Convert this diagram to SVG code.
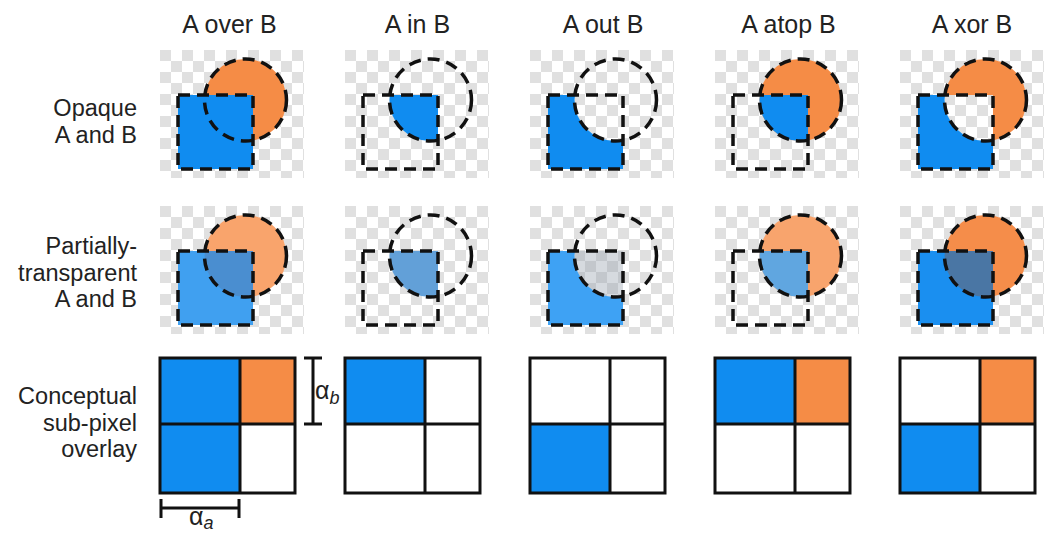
<svg xmlns="http://www.w3.org/2000/svg" xmlns:xlink="http://www.w3.org/1999/xlink" width="1046" height="534" viewBox="0 0 1046 534">
<style>
text{font-family:"Liberation Sans",Arial,sans-serif;fill:#222}
.title{font-size:25px;text-anchor:middle}
.row{font-size:23.5px;text-anchor:end}
.dash{fill:none;stroke:#111;stroke-width:3.5;stroke-dasharray:12 7}
.grid{fill:none;stroke:#111;stroke-width:3}
.dim{stroke:#111;stroke-width:3;fill:none}
.sym{font-size:25px}
.sub{font-size:18px;font-style:italic}
</style>
<defs>
<pattern id="checker" patternUnits="userSpaceOnUse" x="160" y="50" width="22" height="22">
<rect width="22" height="22" fill="#fff"/>
<rect width="11" height="11" fill="#e0e0e0"/>
<rect x="11" y="11" width="11" height="11" fill="#e0e0e0"/>
</pattern>
<clipPath id="clipCircle" clipPathUnits="userSpaceOnUse"><circle cx="245.5" cy="100" r="41"/></clipPath>
<mask id="noCircle" maskUnits="userSpaceOnUse" maskContentUnits="userSpaceOnUse" x="150" y="40" width="170" height="150">
<rect x="150" y="40" width="170" height="150" fill="#fff"/>
<circle cx="245.5" cy="100" r="41" fill="#000"/>
</mask>
<mask id="noSquare" maskUnits="userSpaceOnUse" maskContentUnits="userSpaceOnUse" x="150" y="40" width="170" height="150">
<rect x="150" y="40" width="170" height="150" fill="#fff"/>
<rect x="178" y="95" width="75" height="74" fill="#000"/>
</mask>
<rect id="bg" x="160" y="50" width="144" height="128" fill="url(#checker)"/>
<rect id="sq" x="178" y="95" width="75" height="74"/>
<circle id="ci" cx="245.5" cy="100" r="41"/>
<g id="outline">
<rect class="dash" x="178" y="95" width="75" height="74"/>
<circle class="dash" cx="245.5" cy="100" r="41"/>
</g>
</defs>
<rect width="1046" height="534" fill="#fff"/>

<g id="titles">
<text class="title" x="229.5" y="33">A over B</text>
<text class="title" x="417.5" y="33">A in B</text>
<text class="title" x="603" y="33">A out B</text>
<text class="title" x="788.5" y="33">A atop B</text>
<text class="title" x="972" y="33">A xor B</text>
</g>

<g id="row-labels">
<text class="row" x="137" y="116">Opaque</text>
<text class="row" x="137" y="143">A and B</text>
<text class="row" x="137" y="254">Partially-</text>
<text class="row" x="137" y="280.5">transparent</text>
<text class="row" x="137" y="307">A and B</text>
<text class="row" x="137" y="404">Conceptual</text>
<text class="row" x="137" y="430.5">sub-pixel</text>
<text class="row" x="137" y="457">overlay</text>
</g>

<!-- Row 1: opaque -->
<g id="opaque-over">
<use href="#bg"/>
<use href="#ci" fill="#f58c46"/>
<use href="#sq" fill="#108cf0"/>
<use href="#outline"/>
</g>
<g id="opaque-in" transform="translate(185,0)">
<use href="#bg"/>
<use href="#sq" fill="#108cf0" clip-path="url(#clipCircle)"/>
<use href="#outline"/>
</g>
<g id="opaque-out" transform="translate(370,0)">
<use href="#bg"/>
<use href="#sq" fill="#108cf0" mask="url(#noCircle)"/>
<use href="#outline"/>
</g>
<g id="opaque-atop" transform="translate(555,0)">
<use href="#bg"/>
<use href="#ci" fill="#f58c46"/>
<use href="#sq" fill="#108cf0" clip-path="url(#clipCircle)"/>
<use href="#outline"/>
</g>
<g id="opaque-xor" transform="translate(740,0)">
<use href="#bg"/>
<use href="#ci" fill="#f58c46" mask="url(#noSquare)"/>
<use href="#sq" fill="#108cf0" mask="url(#noCircle)"/>
<use href="#outline"/>
</g>

<!-- Row 2: partially transparent -->
<g id="partial-over" transform="translate(0,156)">
<use href="#bg"/>
<use href="#ci" fill="#f9a46c"/>
<use href="#sq" fill="#40a0f0"/>
<use href="#sq" fill="#4a8ed0" clip-path="url(#clipCircle)"/>
<use href="#outline"/>
</g>
<g id="partial-in" transform="translate(185,156)">
<use href="#bg"/>
<use href="#sq" fill="#62a0d8" clip-path="url(#clipCircle)"/>
<use href="#outline"/>
</g>
<g id="partial-out" transform="translate(370,156)">
<use href="#bg"/>
<use href="#sq" fill="#3ea2f4" mask="url(#noCircle)"/>
<use href="#sq" fill="#98a2ae" fill-opacity="0.4" clip-path="url(#clipCircle)"/>
<use href="#outline"/>
</g>
<g id="partial-atop" transform="translate(555,156)">
<use href="#bg"/>
<use href="#ci" fill="#f8a46d"/>
<use href="#sq" fill="#60a6e0" clip-path="url(#clipCircle)"/>
<use href="#outline"/>
</g>
<g id="partial-xor" transform="translate(740,156)">
<use href="#bg"/>
<use href="#ci" fill="#f58d4a"/>
<use href="#sq" fill="#1a8ff0"/>
<use href="#sq" fill="#4a76a4" clip-path="url(#clipCircle)"/>
<use href="#outline"/>
</g>

<!-- Row 3: conceptual sub-pixel overlay -->
<g id="grid-over">
<rect x="160" y="358" width="80" height="66" fill="#108cf0"/>
<rect x="160" y="424" width="80" height="69" fill="#108cf0"/>
<rect x="240" y="358" width="55" height="66" fill="#f58c46"/>
<rect class="grid" x="160" y="358" width="135" height="135"/>
<path class="grid" d="M240 358V493M160 424H295"/>
</g>
<g id="grid-in" transform="translate(185,0)">
<rect x="160" y="358" width="80" height="66" fill="#108cf0"/>
<rect class="grid" x="160" y="358" width="135" height="135"/>
<path class="grid" d="M240 358V493M160 424H295"/>
</g>
<g id="grid-out" transform="translate(370,0)">
<rect x="160" y="424" width="80" height="69" fill="#108cf0"/>
<rect class="grid" x="160" y="358" width="135" height="135"/>
<path class="grid" d="M240 358V493M160 424H295"/>
</g>
<g id="grid-atop" transform="translate(555,0)">
<rect x="160" y="358" width="80" height="66" fill="#108cf0"/>
<rect x="240" y="358" width="55" height="66" fill="#f58c46"/>
<rect class="grid" x="160" y="358" width="135" height="135"/>
<path class="grid" d="M240 358V493M160 424H295"/>
</g>
<g id="grid-xor" transform="translate(740,0)">
<rect x="160" y="424" width="80" height="69" fill="#108cf0"/>
<rect x="240" y="358" width="55" height="66" fill="#f58c46"/>
<rect class="grid" x="160" y="358" width="135" height="135"/>
<path class="grid" d="M240 358V493M160 424H295"/>
</g>

<g id="connectors">
<path class="dim" d="M313 358V424M304 358H322M304 424H322"/>
<path class="dim" d="M161 508H239M161 499V518M239 499V518"/>
</g>
<g id="dimension-labels">
<text class="sym" x="315" y="399">α<tspan class="sub" dy="5">b</tspan></text>
<text class="sym" x="189" y="525">α<tspan class="sub" dy="4">a</tspan></text>
</g>
</svg>
